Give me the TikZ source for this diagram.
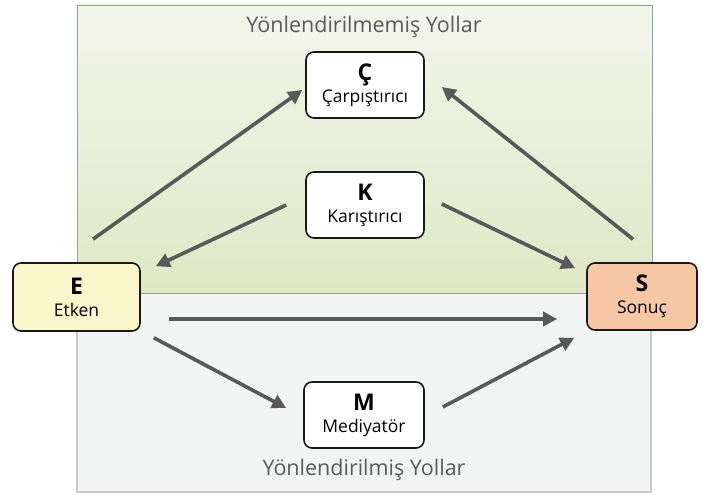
\documentclass[tikz,border=0pt]{standalone}
\usepackage{fontspec}
\setmainfont{Open Sans}
\usepackage{tikz}
\usepackage{xcolor}
\usetikzlibrary{arrows.meta, calc, positioning}

\definecolor{okgri}{HTML}{595959}
\definecolor{yazigri}{HTML}{5A5A5A}
\definecolor{etkenrenk}{HTML}{FCF6CD}
\definecolor{sonucrenk}{HTML}{F8C7A6}
\definecolor{ustacik}{HTML}{F3F5EB}
\definecolor{ustkoyu}{HTML}{DEE9C6}
\definecolor{ustcizgi}{HTML}{8E9DB6}
\definecolor{altdolgu}{HTML}{F3F4F4}
\definecolor{altcizgi}{HTML}{C9C9C9}

\begin{document}
\begin{tikzpicture}[x=1pt, y=-1pt,
    kutu/.style={draw=black!90, line width=1.6pt, rounded corners=8pt, fill=white,
        align=center, inner sep=0pt, font=\fontsize{17.5}{22}\selectfont},
    yol/.style={draw=okgri, line width=3.6pt,
        -{Triangle[length=14pt, width=14pt]}, shorten >=0pt},
    baslik/.style={text=yazigri, font=\fontsize{21.5}{24}\selectfont}]
                    \useasboundingbox (0, 0) rectangle (705, 495);

                    % alt ve ust paneller
                    \draw[altcizgi, fill=altdolgu, line width=1.2pt]
                    (77, 293) rectangle (651, 492);
                    \shade[top color=ustacik, bottom color=ustkoyu]
                    (77, 5) rectangle (652, 293);
                    \draw[ustcizgi, line width=0.8pt]
                    (77, 5) rectangle (652, 293);

                    \node[baslik] (ust) at (364, 27) {Yönlendirilmemiş Yollar};
                    \node[baslik] (alt) at (364, 470) {Yönlendirilmiş Yollar};

                    \node[kutu, fill=etkenrenk, minimum width=127pt, minimum height=68pt] (e) at (76.5, 297)
                    {{\bfseries\fontsize{23}{24}\selectfont E}\\Etken};
                    \node[kutu, fill=sonucrenk, minimum width=110pt, minimum height=67pt] (s) at (642, 296.5)
                    {{\bfseries\fontsize{23}{24}\selectfont S}\\Sonuç};
                    \node[kutu, minimum width=118pt, minimum height=66pt] (c) at (365, 85)
                    {{\bfseries\fontsize{23}{24}\selectfont Ç}\\Çarpıştırıcı};
                    \node[kutu, minimum width=118pt, minimum height=66pt] (k) at (365, 205)
                    {{\bfseries\fontsize{23}{24}\selectfont K}\\Karıştırıcı};
                    \node[kutu, minimum width=120pt, minimum height=66pt] (m) at (364, 415)
                    {{\bfseries\fontsize{23}{24}\selectfont M}\\Mediyatör};

                    % yonlendirilmemis yollar
                    \draw[yol] ($(e.north)+(16.5, -23)$) -- ($(c.west)+(-3, 5)$);
                    \draw[yol] ($(k.west)+(-19, 0)$) -- ($(e.north east)+(15, 4)$);
                    \draw[yol] ($(k.east)+(17, -1)$) -- ($(s.north west)+(-11, 6)$);
                    \draw[yol] ($(s.north)+(-9, -23)$) -- ($(c.east)+(17, 2)$);

                    % yonlendirilmis yollar
                    \draw[yol] ($(e.east)+(28, 22)$) -- ($(s.west)+(-29, 22.5)$);
                    \draw[yol] ($(e.south east)+(13, 6)$) -- ($(m.west)+(-17, -7)$);
                    \draw[yol] ($(m.east)+(18, -8)$) -- ($(s.south west)+(-12, 7)$);
\end{tikzpicture}
\end{document}
